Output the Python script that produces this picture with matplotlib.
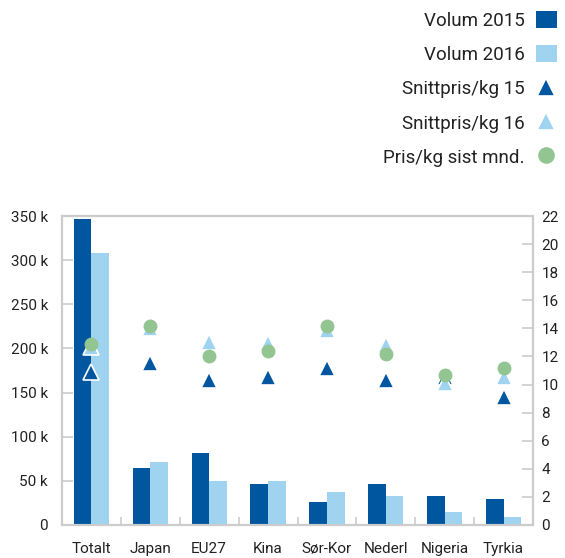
import matplotlib
matplotlib.use("Agg")
import matplotlib.pyplot as plt
import numpy as np

plt.rcParams['font.family'] = ['Roboto', 'DejaVu Sans']

categories = ['Totalt', 'Japan', 'EU27', 'Kina', 'Sør-Kor', 'Nederl', 'Nigeria', 'Tyrkia']
volum_2015 = [346.5, 65, 81.5, 46.5, 25.5, 46.5, 33, 29.5]   # tusen
volum_2016 = [308, 71, 50, 50, 37.5, 33, 14.5, 9]
snitt_15 = [10.9, 11.5, 10.3, 10.55, 11.2, 10.3, 10.55, 9.1]
snitt_16 = [12.7, 14.05, 13.0, 12.95, 13.9, 12.8, 10.1, 10.55]
pris_sist = [12.9, 14.2, 12.05, 12.4, 14.2, 12.2, 10.7, 11.2]

left_ticks = [0, 50, 100, 150, 200, 250, 300, 350]
left_labels = ['0', '50 k', '100 k', '150 k', '200 k', '250 k', '300 k', '350 k']
right_ticks = list(range(0, 23, 2))

dark = '#0057a0'
light = '#a0d3f0'
green = '#93c592'
grey = '#cccccc'
txt = '#222222'

fig = plt.figure(figsize=(5.65, 5.58), dpi=100)
ax = fig.add_axes([62 / 565, 33 / 558, 471 / 565, 309 / 558])
ax2 = ax.twinx()

x = np.arange(len(categories))
w = 0.3
b1 = ax.bar(x - w / 2, volum_2015, w, color=dark, label='Volum 2015', zorder=2)
b2 = ax.bar(x + w / 2, volum_2016, w, color=light, label='Volum 2016', zorder=2)

m1, = ax2.plot(x, snitt_15, '^', ms=11, color=dark, mec='white', mew=1.2,
               ls='none', label='Snittpris/kg 15', zorder=3)
m2, = ax2.plot(x, snitt_16, '^', ms=11, color=light, mec='white', mew=1.2,
               ls='none', label='Snittpris/kg 16', zorder=3)
m3, = ax2.plot(x, pris_sist, 'o', ms=10, color=green, mew=0,
               ls='none', label='Pris/kg sist mnd.', zorder=4)

ax.set_xlim(-0.5, len(categories) - 0.5)
ax.set_ylim(0, 350)
ax2.set_ylim(0, 22)
ax.set_yticks(left_ticks)
ax.set_yticklabels(left_labels)
ax2.set_yticks(right_ticks)
ax.set_xticks(x)
ax.set_xticklabels(categories)
ax.set_xticks(np.arange(0.5, len(categories) - 0.5), minor=True)

for a in (ax, ax2):
    for s in a.spines.values():
        s.set_color(grey)
        s.set_linewidth(1.5)
ax.tick_params(axis='y', direction='in', length=8, width=1.2, color=grey,
               labelsize=11, labelcolor=txt, pad=10)
ax2.tick_params(axis='y', direction='in', length=8, width=1.2, color=grey,
                labelsize=11, labelcolor=txt, pad=6)
ax.tick_params(axis='x', which='major', length=0, labelsize=11, labelcolor=txt, pad=12)
ax.tick_params(axis='x', which='minor', direction='in', length=6, width=1.2, color=grey)

ax2.set_zorder(ax.get_zorder() + 1)
ax2.patch.set_visible(False)

handles = [b1, b2, m1, m2, m3]
labels = [h.get_label() for h in handles]
leg = fig.legend(handles, labels, loc='upper right', bbox_to_anchor=(1.0, 0.995),
                 frameon=False, markerfirst=False, fontsize=13.5, labelspacing=0.82,
                 handlelength=1.1, handleheight=1.0, handletextpad=0.6,
                 markerscale=1.2, borderpad=0.15, borderaxespad=0.3,
                 labelcolor=txt)

fig.savefig('out.png', dpi=100)
